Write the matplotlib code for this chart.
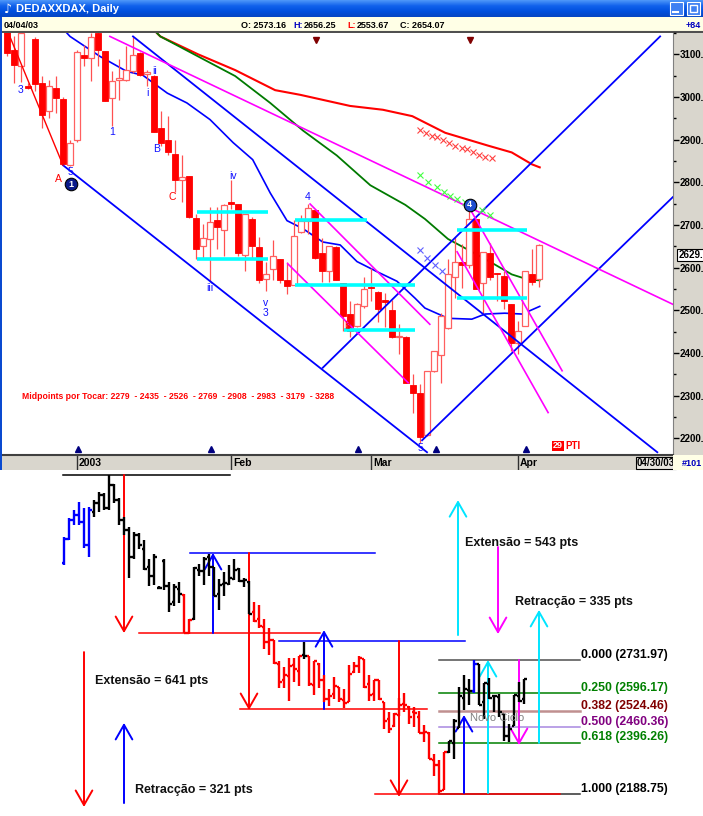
import numpy as np
import matplotlib
matplotlib.use('Agg')
import matplotlib.pyplot as plt
import matplotlib.transforms as mtransforms
from matplotlib.patches import Rectangle
from matplotlib.colors import LinearSegmentedColormap

plt.rcParams['font.family'] = ['Liberation Sans', 'DejaVu Sans']

# ---------------- data (top chart: daily candles, 77 sessions) ----------------
opens = [3180, 3109, 3072, 3025, 3135, 3033, 2967, 3021, 2995, 2840,
         2898, 3098, 3091, 3150, 3107, 2998, 3040, 3040, 3060, 3102,
         3054, 3049, 2928, 2900, 2867, 2805, 2814, 2716, 2651, 2667,
         2712, 2688, 2754, 2749, 2630, 2714, 2649, 2574, 2596, 2621,
         2570, 2560, 2684, 2709, 2735, 2633, 2593, 2649, 2563, 2491,
         2463, 2509, 2553, 2542, 2523, 2500, 2437, 2437, 2325, 2305,
         2207, 2358, 2395, 2458, 2579, 2612, 2607, 2714, 2563, 2635,
         2588, 2581, 2514, 2423, 2463, 2584, 2573]
highs = [3218, 3142, 3160, 3032, 3140, 3049, 3040, 3049, 3000, 2900,
         3110, 3121, 3150, 3160, 3107, 3060, 3090, 3119, 3140, 3105,
         3063, 3051, 2967, 2956, 2898, 2863, 2815, 2726, 2702, 2742,
         2742, 2749, 2805, 2749, 2726, 2719, 2672, 2614, 2665, 2621,
         2614, 2712, 2723, 2749, 2735, 2670, 2651, 2651, 2563, 2521,
         2516, 2579, 2600, 2545, 2540, 2525, 2467, 2440, 2351, 2328,
         2358, 2405, 2493, 2621, 2672, 2656, 2732, 2714, 2637, 2658,
         2588, 2593, 2514, 2474, 2591, 2644, 2656]
lows = [3095, 3033, 3035, 3018, 3015, 2928, 2951, 2963, 2840, 2838,
        2895, 3072, 3037, 3072, 2990, 2933, 2993, 3037, 3056, 3049,
        3026, 2917, 2886, 2863, 2777, 2753, 2717, 2619, 2619, 2567,
        2644, 2626, 2737, 2628, 2591, 2619, 2563, 2544, 2572, 2563,
        2537, 2560, 2680, 2679, 2619, 2567, 2567, 2570, 2451, 2437,
        2460, 2505, 2521, 2472, 2460, 2435, 2398, 2330, 2260, 2189,
        2205, 2355, 2330, 2455, 2528, 2551, 2600, 2549, 2491, 2572,
        2521, 2502, 2405, 2398, 2463, 2560, 2554]
closes = [3102, 3074, 3150, 3022, 3030, 2958, 3026, 2998, 2842, 2893,
          3105, 3091, 3140, 3110, 2991, 3037, 3045, 3063, 3098, 3051,
          3058, 2919, 2891, 2870, 2805, 2812, 2719, 2644, 2670, 2707,
          2695, 2747, 2749, 2633, 2726, 2651, 2572, 2584, 2628, 2572,
          2556, 2675, 2709, 2740, 2623, 2591, 2651, 2572, 2486, 2451,
          2514, 2549, 2551, 2502, 2519, 2437, 2440, 2330, 2307, 2202,
          2358, 2405, 2486, 2586, 2614, 2607, 2714, 2549, 2637, 2579,
          2584, 2521, 2423, 2451, 2591, 2567, 2654]

# moving averages
ma_red_x = [20.5, 21.9, 27.3, 32.6, 38.3, 41.9, 49.0, 53.7, 57.9, 62.6, 68.7, 72.1, 75.0, 76.1]
ma_red_y = [3165, 3142, 3100, 3063, 3016, 3005, 2979, 2970, 2955, 2916, 2886, 2870, 2842, 2835]
ma_green_x = [20.5, 21.9, 27.3, 32.6, 37.6, 42.3, 47.1, 51.9, 56.9, 59.7, 63.0, 66.4, 69.7, 72.1, 74.4, 76.1]
ma_green_y = [3165, 3142, 3095, 3049, 2986, 2921, 2863, 2793, 2747, 2714, 2667, 2637, 2607, 2584, 2572, 2570]
ma_blue_x = [8.0, 9.0, 13.3, 17.1, 19.4, 22.9, 25.7, 29.0, 32.3, 35.1, 37.6, 40.0, 42.3, 45.1,
             47.6, 50.0, 52.9, 55.7, 58.3, 59.7, 63.0, 66.4, 68.3, 71.1, 73.6, 76.1]
ma_blue_y = [3160, 3142, 3095, 3060, 3051, 3009, 2986, 2947, 2893, 2853, 2775, 2710, 2691, 2660,
             2653, 2614, 2590, 2568, 2528, 2505, 2481, 2479, 2491, 2493, 2491, 2509]

# trend lines: (x0, y0, x1, y1)
blue_lines = [(18.0, 3142, 92.9, 2167), (8.0, 2840, 60.0, 2167),
              (45.1, 2365, 93.3, 3142), (59.3, 2195, 95.1, 2765)]
magenta_lines = [(14.7, 3142, 95.1, 2514), (43.3, 2749, 60.4, 2467), (40.1, 2609, 57.3, 2330),
                 (66.4, 2730, 79.3, 2358), (64.3, 2637, 77.3, 2260)]
red_lines = [(0.4, 3142, 8.0, 2840)]
cyan_lines = [(27.1, 37.3, 2730), (27.1, 37.3, 2619), (41.1, 51.4, 2712), (41.1, 58.3, 2558),
              (48.1, 58.3, 2453), (64.3, 74.3, 2688), (64.3, 74.3, 2528)]

x_red_x = [59.0, 59.9, 60.7, 61.4, 62.3, 63.1, 64.0, 65.0, 65.7, 66.6, 67.4, 68.3, 69.3]
x_red_y = [2923, 2916, 2909, 2905, 2900, 2893, 2886, 2881, 2877, 2870, 2865, 2860, 2858]
x_green_x = [59.0, 60.1, 61.4, 62.4, 63.3, 64.3, 65.4, 66.6, 67.9, 69.0]
x_green_y = [2816, 2800, 2788, 2777, 2767, 2760, 2753, 2744, 2735, 2723]
x_blue_x = [59.0, 60.0, 61.1, 62.1]
x_blue_y = [2642, 2623, 2607, 2593]

wave_labels = [('3', 2.0, 3016, 'b'), ('1', 15.0, 2919, 'b'), ('i', 20.1, 3009, 'b'),
               ('ii', 21.1, 3060, 'b'), ('B', 21.4, 2877, 'b'), ('A', 7.4, 2807, 'r'),
               ('5', 9.0, 2823, 'b'), ('C', 23.6, 2765, 'r'), ('iv', 32.3, 2814, 'b'),
               ('iii', 29.0, 2551, 'b'), ('v', 37.0, 2516, 'b'), ('3', 37.0, 2493, 'b'),
               ('4', 43.0, 2765, 'b'), ('5', 59.0, 2177, 'b'), ('b', 48.6, 2463, 'r')]
circles = [('1', 9.1, 2795), ('4', 66.1, 2747)]
top_marks = [44.1, 66.1]
bottom_marks = [10.1, 29.1, 50.1, 61.3, 74.1]
midpoints = [2279, 2435, 2526, 2769, 2908, 2983, 3179, 3288]
month_pos = [10, 32, 52, 73]
month_lbl = ['2003', 'Feb', 'Mar', 'Apr']
price_ticks = [2200, 2300, 2400, 2500, 2600, 2700, 2800, 2900, 3000, 3100]

# ---------------- data (bottom chart: bars, 16 earlier sessions + the same 77) ----------------
pre_open = [3125, 3222, 3300, 3320, 3290, 3200, 3330, 3370, 3400, 3350, 3440, 3380, 3300, 3260, 3150, 3240]
pre_high = [3230, 3308, 3340, 3372, 3348, 3352, 3380, 3413, 3409, 3482, 3445, 3389, 3310, 3270, 3250, 3245]
pre_low = [3117, 3218, 3279, 3279, 3186, 3150, 3312, 3332, 3340, 3340, 3368, 3280, 3240, 3064, 3140, 3180]
pre_close = [3222, 3300, 3320, 3290, 3200, 3340, 3370, 3400, 3350, 3440, 3380, 3300, 3260, 3150, 3240, 3200]

fib_ratio = [0.000, 0.250, 0.382, 0.500, 0.618, 1.000]
fib_price = [2731.97, 2596.17, 2524.46, 2460.36, 2396.26, 2188.75]
fib_color = ['#505050', '#008000', '#c09090', '#a888e0', '#008000', '#303030']
fib_txtcol = ['black', '#008000', '#800000', '#800080', '#008000', 'black']

b_hlines = [(-0.2, 33.2, 3482, 'black'), (15.0, 51.2, 2841, 'red'), (25.2, 62.2, 3166, 'blue'),
            (35.2, 72.6, 2533, 'red'), (43.0, 80.2, 2809, 'blue'), (62.2, 99.2, 2189, 'red')]
b_arrows = [(12.0, 3482, 2841, 'red'), (29.8, 2841, 3166, 'blue'), (37.0, 3166, 2529, 'red'),
            (52.0, 2533, 2853, 'blue'), (67.0, 2809, 2177, 'red'), (80.0, 2193, 2509, 'blue'),
            (84.8, 2193, 2732, '#00e5ff'), (91.0, 2732, 2387, '#ff00ff'), (95.0, 2396, 2935, '#00e5ff'),
            (78.8, 2833, 3380, '#00e5ff'), (86.8, 3190, 2837, '#ff00ff'), (4.0, 2764, 2136, 'red'),
            (12.0, 2152, 2477, 'blue')]
b_texts = [('Extensão = 543 pts', 80.2, 3206), ('Retracção = 335 pts', 90.2, 2967),
           ('Extensão = 641 pts', 6.2, 2647), ('Retracção = 321 pts', 14.2, 2205)]

# ---------------- figure ----------------
W, H = 703.0, 816.0
fig = plt.figure(figsize=(7.03, 8.16), dpi=100)
fig.patch.set_facecolor('white')


def box(x0, y0, x1, y1):
    return [x0 / W, 1 - y1 / H, (x1 - x0) / W, (y1 - y0) / H]


def bare(a):
    a.set_xticks([]); a.set_yticks([])
    for s in a.spines.values():
        s.set_visible(False)


# title bar
tb = fig.add_axes(box(0, 0, 703, 17))
cm = LinearSegmentedColormap.from_list('xp', ['#4a94f8', '#1162ec', '#0050df', '#0546c4'])
tb.imshow(np.linspace(0, 1, 17)[:, None], aspect='auto', cmap=cm, extent=(0, 703, 17, 0))
tb.set_xlim(0, 703); tb.set_ylim(17, 0); tb.set_axis_off()
tb.text(4, 9, '♪', color='white', fontsize=9, va='center', family=['DejaVu Sans'])
tb.text(16, 9, 'DEDAXXDAX, Daily', color='white', fontsize=8, fontweight='bold', va='center')
for x0 in (670, 687):
    tb.add_patch(Rectangle((x0, 2), 13, 13, fc='#3f80f2', ec='white', lw=0.8))
tb.plot([673, 678], [11.5, 11.5], color='white', lw=1.5)
tb.add_patch(Rectangle((690, 5), 7, 7, fc='none', ec='white', lw=1.0))

# info bar
info = fig.add_axes(box(0, 17, 703, 33))
info.set_facecolor('#ffffe6'); bare(info)
info.set_xlim(0, 703); info.set_ylim(33, 17)
info.axhline(32.3, color='#505050', lw=1.5)
for x, s, c in [(4, '04/04/03', 'black'), (241, 'O: 2573.16', 'black'), (293, 'H:', '#0000c0'),
                (304, '2656.25', 'black'), (347, 'L:', 'red'), (357, '2553.67', 'black'),
                (400, 'C: 2654.07', 'black'), (686, '+84', '#0000c0')]:
    info.text(x, 25, s, color=c, fontsize=6.5, fontweight='bold', va='center')

# price-axis pane
pane = fig.add_axes(box(673, 33, 703, 455), zorder=-1)
pane.set_facecolor('#d9d6cd'); bare(pane)

# main chart
ax = fig.add_axes(box(3, 33, 673, 455))
ax.set_xlim(-0.571, 95.14)
ax.set_ylim(2160.5, 3142)
for k in ('left', 'top', 'bottom'):
    ax.spines[k].set_visible(False)
ax.spines['right'].set_color('#808080')
ax.tick_params(axis='x', bottom=False, labelbottom=False)
ax.yaxis.tick_right()
ax.set_yticks(price_ticks)
ax.set_yticklabels([f'{v}.' for v in price_ticks])
ax.set_yticks([p + 50 for p in price_ticks], minor=True)
ax.tick_params(axis='y', which='major', direction='out', length=4, width=1, pad=1,
               labelsize=7, colors='black')
ax.tick_params(axis='y', which='minor', direction='out', length=2.5, width=1)
for t in ax.get_yticklabels():
    t.set_fontweight('bold')

ax.plot(ma_red_x, ma_red_y, color='#ff0000', lw=1.5, zorder=3)
ax.plot(ma_green_x, ma_green_y, color='#007a00', lw=1.3, zorder=3)
ax.plot(ma_blue_x, ma_blue_y, color='#0000ff', lw=1.2, zorder=3)

o = np.array(opens, float); hi = np.array(highs, float)
lo = np.array(lows, float); c = np.array(closes, float)
idx = np.arange(len(o))
up = c >= o
ax.vlines(idx, lo, hi, color='#ff5050', lw=0.9, zorder=4)
body = np.maximum(np.abs(c - o), 3)
ax.bar(idx[up], body[up], bottom=o[up], width=0.72, facecolor='white',
       edgecolor='#ff6060', lw=0.9, zorder=5)
ax.bar(idx[~up], body[~up], bottom=np.minimum(o, c)[~up], width=0.72,
       facecolor='#ff0000', edgecolor='#ff0000', lw=0.6, zorder=5)

for x0, y0, x1, y1 in blue_lines:
    ax.plot([x0, x1], [y0, y1], color='#0000ff', lw=1.3, zorder=6)
for x0, y0, x1, y1 in magenta_lines:
    ax.plot([x0, x1], [y0, y1], color='#ff00ff', lw=1.2, zorder=6)
for x0, y0, x1, y1 in red_lines:
    ax.plot([x0, x1], [y0, y1], color='#ff0000', lw=1.0, zorder=6)
for x0, x1, y in cyan_lines:
    ax.plot([x0, x1], [y, y], color='#00ffff', lw=2.6, zorder=6, solid_capstyle='butt')

ax.plot(x_red_x, x_red_y, 'x', color='#ff4040', ms=5, mew=0.8, zorder=7)
ax.plot(x_green_x, x_green_y, 'x', color='#40ff40', ms=5, mew=0.8, zorder=7)
ax.plot(x_blue_x, x_blue_y, 'x', color='#6060ff', ms=5, mew=0.8, zorder=7)

for s, x, y, col in wave_labels:
    ax.text(x, y, s, color='#1010ff' if col == 'b' else '#ff0000', fontsize=7.5,
            ha='center', va='center', zorder=9)
for s, x, y in circles:
    ax.plot(x, y, 'o', ms=9, mfc='#0a1a8a' if s == '1' else '#2050d0', mec='black', mew=0.8, zorder=9)
    ax.text(x, y, s, color='white', fontsize=6.5, fontweight='bold', ha='center', va='center', zorder=10)
ax.plot(top_marks, [3134] * len(top_marks), 'v', color='#800000', ms=4, zorder=9)
ax.plot(bottom_marks, [2174] * len(bottom_marks), '^', color='#000080', ms=4, zorder=9)

mid_txt = 'Midpoints por Tocar: ' + '  - '.join(str(m) for m in midpoints)
ax.text(2.1, 2298, mid_txt, color='#ff0000', fontsize=6.2, fontweight='bold', va='center', zorder=9)
ax.text(78.0, 2182, '29', color='white', fontsize=6.5, fontweight='bold', va='center',
        bbox=dict(fc='#ff0000', ec='none', pad=0.6), zorder=9)
ax.text(79.8, 2182, 'PTI', color='#ff0000', fontsize=7, fontweight='bold', va='center', zorder=9)

trans = mtransforms.blended_transform_factory(ax.transAxes, ax.transData)
ax.text(1.008, closes[-1] - 25, '2629.', transform=trans, fontsize=7, fontweight='bold',
        va='center', ha='left', clip_on=False,
        bbox=dict(fc='white', ec='black', lw=0.8, pad=0.8), zorder=10)

# window border (left)
fig.add_artist(Rectangle((0, 1 - 470 / H), 2.2 / W, (470 - 17) / H, transform=fig.transFigure,
                         fc='#0a4ad0', ec='none', zorder=20))

# time bar
tbar = fig.add_axes(box(0, 455, 673, 470))
tbar.set_facecolor('#d9d6cd')
tbar.set_xlim(-1.0, 95.14); tbar.set_ylim(0, 1)
tbar.set_xticks([]); tbar.set_yticks([])
for k in ('left', 'right', 'bottom'):
    tbar.spines[k].set_visible(False)
tbar.spines['top'].set_color('#404040'); tbar.spines['top'].set_linewidth(1.5)
tbar.vlines(month_pos, 0, 1, color='#303030', lw=1)
for x, s in zip(month_pos, month_lbl):
    tbar.text(x + 0.3, 0.45, s, fontsize=7.5, fontweight='bold', va='center')
tbar.text(90.0, 0.45, '04/30/03', fontsize=7, fontweight='bold', va='center',
          bbox=dict(fc='#e8e6e0', ec='black', lw=0.8, pad=0.8))
corner = fig.add_axes(box(673, 455, 703, 470))
corner.set_facecolor('#ffffe6'); bare(corner)
corner.set_xlim(0, 1); corner.set_ylim(0, 1)
corner.text(0.3, 0.45, '#101', color='#0000c0', fontsize=6.5, fontweight='bold', va='center')

# bottom chart
axb = fig.add_axes(box(0, 470, 703, 816))
axb.set_xlim(-12.8, 127.8)
axb.set_ylim(2099.6, 3502.1)
axb.set_axis_off()

b_open = np.array(pre_open + opens, float)
b_high = np.array(pre_high + highs, float)
b_low = np.array(pre_low + lows, float)
b_close = np.array(pre_close + closes, float)
jj = np.arange(len(b_open))
cols = ['black'] * len(jj)
for j in range(len(jj)):
    if j <= 5:
        cols[j] = '#0000ff'
    elif j in (24, 25) or 38 <= j <= 76:
        cols[j] = '#ff0000'
cols[48] = 'black'
cols[82] = '#0000ff'

for y_x0, y_x1, y, col in b_hlines:
    axb.plot([y_x0, y_x1], [y, y], color=col, lw=1.1, zorder=2)
for p, col in zip(fib_price, fib_color):
    axb.plot([75.0, 103.2], [p, p], color=col, lw=1.8 if col == '#c09090' else 1.1, zorder=1)
for r, p, col in zip(fib_ratio, fib_price, fib_txtcol):
    axb.text(103.4, p + 22, f'{r:.3f} ({p:.2f})', color=col, fontsize=8.8, fontweight='bold',
             va='center', ha='left')

axb.vlines(jj, b_low, b_high, colors=cols, lw=1.7, zorder=4)
axb.hlines(b_open, jj - 0.5, jj, colors=cols, lw=1.7, zorder=4)
axb.hlines(b_close, jj, jj + 0.5, colors=cols, lw=1.7, zorder=4)

for x, y0, y1, col in b_arrows:
    axb.annotate('', xy=(x, y1), xytext=(x, y0), zorder=3,
                 arrowprops=dict(arrowstyle='->,head_length=1.05,head_width=0.6',
                                 color=col, lw=1.4, shrinkA=0, shrinkB=0))
for s, x, y in b_texts:
    axb.text(x, y, s, fontsize=9, fontweight='bold', va='center', ha='left', color='#111111')
axb.text(81.2, 2497, 'Novo Ciclo', fontsize=8, color='#808080', va='center', ha='left', zorder=5)

fig.savefig('out.png', dpi=100)
